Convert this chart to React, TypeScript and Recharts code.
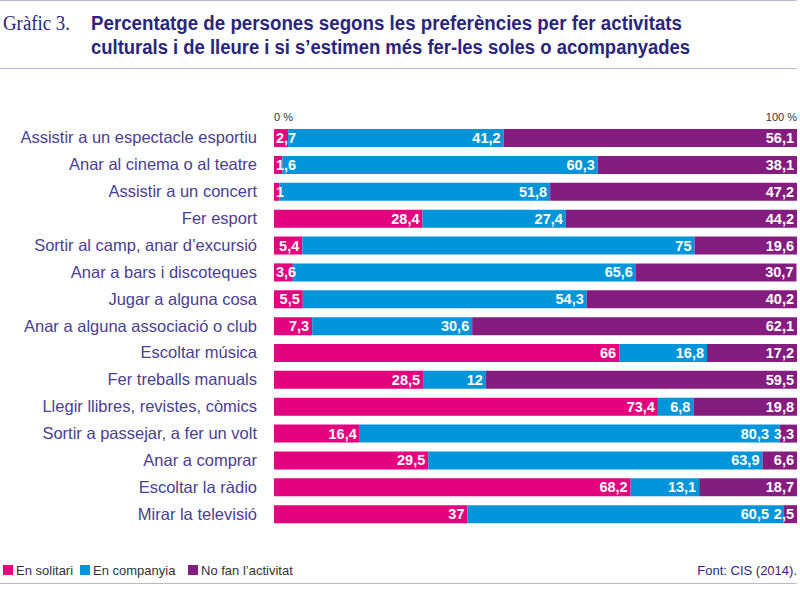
import { BarChart, Bar, XAxis, YAxis, LabelList } from 'recharts'

const categories = [
  'Assistir a un espectacle esportiu',
  'Anar al cinema o al teatre',
  'Assistir a un concert',
  'Fer esport',
  'Sortir al camp, anar d’excursió',
  'Anar a bars i discoteques',
  'Jugar a alguna cosa',
  'Anar a alguna associació o club',
  'Escoltar música',
  'Fer treballs manuals',
  'Llegir llibres, revistes, còmics',
  'Sortir a passejar, a fer un volt',
  'Anar a comprar',
  'Escoltar la ràdio',
  'Mirar la televisió',
]
const enSolitari = [2.7, 1.6, 1, 28.4, 5.4, 3.6, 5.5, 7.3, 66, 28.5, 73.4, 16.4, 29.5, 68.2, 37]
const enCompanyia = [41.2, 60.3, 51.8, 27.4, 75, 65.6, 54.3, 30.6, 16.8, 12, 6.8, 80.3, 63.9, 13.1, 60.5]
const noFan = [56.1, 38.1, 47.2, 44.2, 19.6, 30.7, 40.2, 62.1, 17.2, 59.5, 19.8, 3.3, 6.6, 18.7, 2.5]
const axisTicks = [0, 100]

const legendItems = ['En solitari', 'En companyia', 'No fan l’activitat']

const PINK = '#e5007e'
const BLUE = '#0095da'
const PURPLE = '#851c80'
const NAVY = '#2a2679'
const LINE = '#b9b6da'

const data = categories.map((name, i) => ({
  name,
  solitari: enSolitari[i],
  companyia: enCompanyia[i],
  noFan: noFan[i],
}))

const fmt = (v: number) => String(v).replace('.', ',')

function textWidth(s: string) {
  let w = 0
  for (const c of s) w += c === ',' ? 4 : 8
  return w
}

function makeLabel(kind: 'pink' | 'blue' | 'purple') {
  return (props: any) => {
    const { x, y, width, height, value, index } = props
    const txt = fmt(value)
    let anchor = 'end'
    let tx = x + width - 3
    if (kind === 'pink' && width < textWidth(txt) + 6) {
      anchor = 'start'
      tx = x + 2
    }
    if (kind === 'blue' && value > 0) {
      // push left when the purple label next to it spills over
      const next = noFan[index]
      const nextW = (next * width) / value
      const nextTxtStart = x + width + nextW - 3 - textWidth(fmt(next))
      if (nextTxtStart - 5 < tx) tx = nextTxtStart - 5
    }
    return (
      <text
        x={tx}
        y={y + height / 2}
        dy={5}
        textAnchor={anchor}
        fill="#fff"
        fontSize={14.5}
        fontWeight="bold"
        fontFamily="'Liberation Sans', Arial, sans-serif"
      >
        {txt}
      </text>
    )
  }
}

const TopTick = (props: any) => {
  const { x, y, payload } = props
  return (
    <text
      x={x}
      y={y}
      dy={4}
      textAnchor={payload.value === 0 ? 'start' : 'end'}
      fill="#333"
      fontSize={11}
      fontFamily="'Liberation Sans', Arial, sans-serif"
    >
      {payload.value} %
    </text>
  )
}

const CategoryTick = (props: any) => {
  const { y, payload } = props
  return (
    <text
      x={257}
      y={y}
      dy={5.5}
      textAnchor="end"
      fill="#4a4090"
      fontSize={16.5}
      fontFamily="'Liberation Sans', Arial, sans-serif"
    >
      {payload.value}
    </text>
  )
}

export default function App() {
  const legendColors = [PINK, BLUE, PURPLE]
  const legendX = [3, 80, 188]
  return (
    <div style={{ position: 'absolute', left: 0, top: 0, width: 800, height: 590, background: '#fff' }}>
      <svg width={800} height={590} style={{ position: 'absolute', left: 0, top: 0 }}>
        <line x1={0} x2={797} y1={0.5} y2={0.5} stroke={LINE} />
        <text x={3} y={30} fill={NAVY} fontSize={20} fontFamily="'Liberation Serif', 'DejaVu Serif', serif"
          textLength={67} lengthAdjust="spacingAndGlyphs">
          Gràfic 3.
        </text>
        <text x={91} y={30} fill={NAVY} fontSize={20} fontWeight="bold"
          fontFamily="'Liberation Sans Narrow', 'Liberation Sans', Arial, sans-serif"
          textLength={591} lengthAdjust="spacingAndGlyphs">
          Percentatge de persones segons les preferències per fer activitats
        </text>
        <text x={91} y={54} fill={NAVY} fontSize={20} fontWeight="bold"
          fontFamily="'Liberation Sans Narrow', 'Liberation Sans', Arial, sans-serif"
          textLength={599} lengthAdjust="spacingAndGlyphs">
          culturals i de lleure i si s’estimen més fer-les soles o acompanyades
        </text>
        <line x1={0} x2={797} y1={68.5} y2={68.5} stroke={LINE} />

        {legendItems.map((t, i) => (
          <g key={t}>
            <rect x={legendX[i]} y={565} width={10} height={10} fill={legendColors[i]} />
            <text x={legendX[i] + 13} y={575} fill="#333" fontSize={13}
              fontFamily="'Liberation Sans Narrow', 'Liberation Sans', Arial, sans-serif">
              {t}
            </text>
          </g>
        ))}
        <text x={797} y={575} textAnchor="end" fill={NAVY} fontSize={13}
          fontFamily="'Liberation Sans Narrow', 'Liberation Sans', Arial, sans-serif">
          Font: CIS (2014).
        </text>
        <line x1={0} x2={797} y1={583.5} y2={583.5} stroke={LINE} />
      </svg>
      <div style={{ position: 'absolute', left: 0, top: 0 }}>
        <BarChart
          width={800}
          height={590}
          data={data}
          layout="vertical"
          margin={{ top: 104.5, right: 3, bottom: 62.5, left: 0 }}
          barCategoryGap="17%"
        >
          <XAxis
            type="number"
            orientation="top"
            domain={[0, 100]}
            allowDataOverflow
            ticks={axisTicks}
            height={20}
            axisLine={false}
            tickLine={false}
            tick={<TopTick />}
            interval={0}
          />
          <YAxis
            type="category"
            dataKey="name"
            width={274}
            axisLine={false}
            tickLine={false}
            tick={<CategoryTick />}
            interval={0}
          />
          <Bar dataKey="solitari" stackId="a" fill={PINK} isAnimationActive={false}>
            <LabelList dataKey="solitari" content={makeLabel('pink')} />
          </Bar>
          <Bar dataKey="companyia" stackId="a" fill={BLUE} isAnimationActive={false}>
            <LabelList dataKey="companyia" content={makeLabel('blue')} />
          </Bar>
          <Bar dataKey="noFan" stackId="a" fill={PURPLE} isAnimationActive={false}>
            <LabelList dataKey="noFan" content={makeLabel('purple')} />
          </Bar>
        </BarChart>
      </div>
    </div>
  )
}
